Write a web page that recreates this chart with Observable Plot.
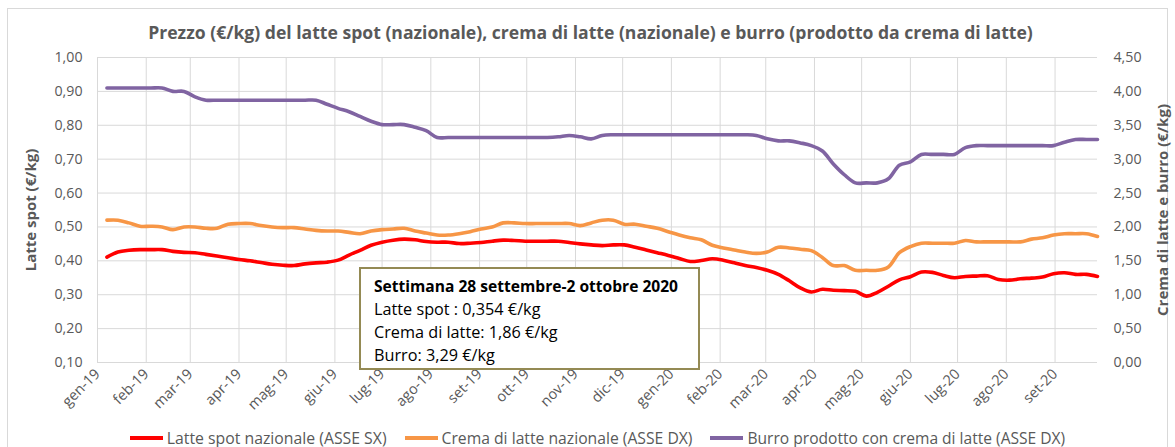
<!DOCTYPE html>
<html>
<head>
<meta charset="utf-8">
<script src="https://cdn.jsdelivr.net/npm/d3@7"></script>
<script src="https://cdn.jsdelivr.net/npm/@observablehq/plot@0.6"></script>
<style>
  html, body { margin: 0; padding: 0; background: #fff; width: 1175px; height: 447px; overflow: hidden; }
  body { font-family: "Open Sans", sans-serif; position: relative; }
  #frame { position: absolute; left: 7px; top: 8px; width: 1161px; height: 470px; border: 1px solid #d9d9d9; box-sizing: border-box; }
  #title { position: absolute; left: 0; top: 22px; width: 1181px; text-align: center; color: #595959; white-space: nowrap; line-height: 20px; }
  #title span { font-weight: bold; font-size: 16.5px; }
  #chart { position: absolute; left: 0; top: 45px; }
  #note { position: absolute; left: 359px; top: 267px; width: 341px; height: 103px; box-sizing: border-box; border: 2px solid #948a54; background: #fff; padding: 6px 0 0 13px; color: #000; font-size: 14px; line-height: 22px; white-space: nowrap; }
  #note div { display: block; }
  #note span { display: inline-block; }
  #note .head { font-weight: bold; font-size: 14.3px; }
  #legend { position: absolute; left: 10px; top: 428px; width: 1175px; display: flex; justify-content: center; gap: 18px; font-size: 15px; color: #595959; white-space: nowrap; line-height: 20px; }
  #legend .item { display: flex; align-items: center; }
  #legend .sw { display: inline-block; width: 33px; height: 4px; margin-right: 4px; }
</style>
</head>
<body>
<div id="frame"></div>
<div id="title"><span></span></div>
<div id="chart"></div>
<div id="note"></div>
<div id="legend"></div>
<script>
// ---------- DATA ----------
const titleText = "Prezzo (€/kg) del latte spot (nazionale), crema di latte (nazionale) e burro (prodotto da crema di latte)";
const leftAxisTitle = "Latte spot (€/kg)";
const rightAxisTitle = "Crema di latte e burro (€/kg)";

const weeks = [
  "2019-01-07","2019-01-14","2019-01-21","2019-01-28","2019-02-04","2019-02-11","2019-02-18","2019-02-25",
  "2019-03-04","2019-03-11","2019-03-18","2019-03-25","2019-04-01","2019-04-08","2019-04-15","2019-04-22","2019-04-29",
  "2019-05-06","2019-05-13","2019-05-20","2019-05-27","2019-06-03","2019-06-10","2019-06-17","2019-06-24",
  "2019-07-01","2019-07-08","2019-07-15","2019-07-22","2019-07-29","2019-08-05","2019-08-12","2019-08-19","2019-08-26",
  "2019-09-02","2019-09-09","2019-09-16","2019-09-23","2019-09-30","2019-10-07","2019-10-14","2019-10-21","2019-10-28",
  "2019-11-04","2019-11-11","2019-11-18","2019-11-25","2019-12-02","2019-12-09","2019-12-16","2019-12-23","2019-12-30",
  "2020-01-06","2020-01-13","2020-01-20","2020-01-27","2020-02-03","2020-02-10","2020-02-17","2020-02-24",
  "2020-03-02","2020-03-09","2020-03-16","2020-03-23","2020-03-30","2020-04-06","2020-04-13","2020-04-20","2020-04-27",
  "2020-05-04","2020-05-11","2020-05-18","2020-05-25","2020-06-01","2020-06-08","2020-06-15","2020-06-22","2020-06-29",
  "2020-07-06","2020-07-13","2020-07-20","2020-07-27","2020-08-03","2020-08-10","2020-08-17","2020-08-24","2020-08-31",
  "2020-09-07","2020-09-14","2020-09-21","2020-09-28"
];

// Latte spot nazionale (left axis, €/kg)
const latteSpot = [
  0.411,0.426,0.431,0.433,0.433,0.433,0.428,0.425,0.424,0.419,0.414,0.409,0.404,0.400,0.395,0.390,0.387,
  0.386,0.391,0.394,0.396,0.402,0.417,0.431,0.446,0.455,0.461,0.464,0.462,0.457,0.455,0.455,0.451,0.452,
  0.454,0.458,0.461,0.460,0.458,0.458,0.458,0.458,0.454,0.450,0.447,0.445,0.447,0.447,0.440,0.432,0.424,
  0.416,0.407,0.398,0.401,0.406,0.402,0.394,0.386,0.380,0.372,0.360,0.341,0.320,0.308,0.316,0.313,0.312,
  0.310,0.296,0.307,0.325,0.344,0.353,0.367,0.366,0.357,0.350,0.354,0.355,0.356,0.345,0.343,0.347,0.349,
  0.352,0.362,0.365,0.360,0.360,0.354
];

// Crema di latte nazionale (right axis, €/kg)
const cremaLatte = [
  2.10,2.10,2.06,2.01,2.01,2.00,1.96,2.00,2.00,1.98,1.98,2.04,2.05,2.05,2.02,2.00,1.99,
  1.99,1.97,1.95,1.94,1.94,1.92,1.90,1.94,1.96,1.97,1.98,1.94,1.91,1.88,1.88,1.90,1.93,
  1.97,2.00,2.06,2.06,2.05,2.05,2.05,2.05,2.05,2.02,2.06,2.10,2.10,2.04,2.04,2.01,1.98,
  1.93,1.88,1.84,1.81,1.73,1.69,1.66,1.63,1.61,1.63,1.70,1.69,1.67,1.65,1.55,1.43,1.43,
  1.36,1.36,1.36,1.41,1.62,1.71,1.76,1.76,1.76,1.76,1.80,1.78,1.78,1.78,1.78,1.78,1.82,
  1.84,1.88,1.90,1.90,1.90,1.86
];

// Burro prodotto con crema di latte (right axis, €/kg)
const burro = [
  4.05,4.05,4.05,4.05,4.05,4.05,4.00,4.00,3.92,3.87,3.87,3.87,3.87,3.87,3.87,3.87,3.87,
  3.87,3.87,3.87,3.81,3.75,3.70,3.63,3.56,3.51,3.51,3.51,3.47,3.42,3.32,3.32,3.32,3.32,
  3.32,3.32,3.32,3.32,3.32,3.32,3.32,3.33,3.35,3.33,3.30,3.35,3.36,3.36,3.36,3.36,3.36,
  3.36,3.36,3.36,3.36,3.36,3.36,3.36,3.36,3.35,3.30,3.27,3.27,3.24,3.20,3.12,2.93,2.77,
  2.65,2.65,2.65,2.71,2.91,2.96,3.07,3.07,3.07,3.07,3.17,3.20,3.20,3.20,3.20,3.20,3.20,
  3.20,3.20,3.25,3.29,3.29,3.29
];

const seriesNames = ["Latte spot nazionale (ASSE SX)", "Crema di latte nazionale (ASSE DX)", "Burro prodotto con crema di latte (ASSE DX)"];
const seriesColors = ["#ff0000", "#f79646", "#8064a2"];

const leftTicks = [0.1,0.2,0.3,0.4,0.5,0.6,0.7,0.8,0.9,1.0];
const leftTickLabels = ["0,10","0,20","0,30","0,40","0,50","0,60","0,70","0,80","0,90","1,00"];
const rightTickLabels = ["0,00","0,50","1,00","1,50","2,00","2,50","3,00","3,50","4,00","4,50"];

const monthTickDates = [
  "2019-01-01","2019-02-01","2019-03-01","2019-04-01","2019-05-01","2019-06-01","2019-07-01","2019-08-01",
  "2019-09-01","2019-10-01","2019-11-01","2019-12-01","2020-01-01","2020-02-01","2020-03-01","2020-04-01",
  "2020-05-01","2020-06-01","2020-07-01","2020-08-01","2020-09-01"
];
const monthTickLabels = [
  "gen-19","feb-19","mar-19","apr-19","mag-19","giu-19","lug-19","ago-19","set-19","ott-19","nov-19","dic-19",
  "gen-20","feb-20","mar-20","apr-20","mag-20","giu-20","lug-20","ago-20","set-20"
];

const noteLines = ["Settimana 28 settembre-2 ottobre 2020", "Latte spot : 0,354 €/kg", "Crema di latte: 1,86 €/kg", "Burro: 3,29 €/kg"];

// ---------- BUILD ----------
const parse = s => new Date(s + "T00:00:00Z");
const toLeft = v => 0.1 + v / 5; // right axis (0–4.5) mapped onto left axis (0.1–1.0)

const rows = [];
weeks.forEach((w, i) => {
  rows.push({date: parse(w), y: latteSpot[i], s: seriesNames[0]});
  rows.push({date: parse(w), y: toLeft(cremaLatte[i]), s: seriesNames[1]});
  rows.push({date: parse(w), y: toLeft(burro[i]), s: seriesNames[2]});
});

const monthTicks = monthTickDates.map(parse);
const monthLabelMap = new Map(monthTicks.map((d, i) => [+d, monthTickLabels[i]]));
const leftLabelMap = new Map(leftTicks.map((d, i) => [d.toFixed(2), leftTickLabels[i]]));
const rightLabelMap = new Map(leftTicks.map((d, i) => [d.toFixed(2), rightTickLabels[i]]));

const chart = Plot.plot({
  width: 1175,
  height: 372,
  marginLeft: 97,
  marginRight: 78,
  marginTop: 12,
  marginBottom: 55,
  style: {fontFamily: "Open Sans, sans-serif", fontSize: "14.2px", color: "#595959", background: "transparent", overflow: "visible"},
  x: {type: "utc", domain: [parse("2019-01-01"), parse(weeks[weeks.length - 1])]},
  y: {domain: [0.1, 1.0]},
  color: {domain: seriesNames, range: seriesColors},
  marks: [
    Plot.gridY(leftTicks, {stroke: "#d9d9d9", strokeOpacity: 1, strokeWidth: 1}),
    Plot.gridX(monthTicks, {stroke: "#d9d9d9", strokeOpacity: 1, strokeWidth: 1}),
    Plot.axisY(leftTicks, {anchor: "left", tickSize: 0, tickPadding: 15, label: null, tickFormat: d => leftLabelMap.get(d.toFixed(2))}),
    Plot.axisY(leftTicks, {anchor: "right", tickSize: 0, tickPadding: 16, label: null, textAnchor: "start", tickFormat: d => rightLabelMap.get(d.toFixed(2))}),
    Plot.axisX(monthTicks, {anchor: "bottom", tickSize: 0, tickPadding: 9, tickRotate: -45, label: null, fontSize: 14.5, tickFormat: d => monthLabelMap.get(+d)}),
    Plot.text([leftAxisTitle], {frameAnchor: "left", textAnchor: "middle", rotate: -90, dx: -66, fontWeight: "bold", fontSize: 15, fill: "#595959"}),
    Plot.text([rightAxisTitle], {frameAnchor: "right", textAnchor: "middle", rotate: -90, dx: 66, fontWeight: "bold", fontSize: 15, fill: "#595959"}),
    Plot.lineY(rows, {x: "date", y: "y", z: "s", stroke: "s", strokeWidth: 3.6, curve: "catmull-rom", strokeLinejoin: "round", strokeLinecap: "round"})
  ]
});
document.getElementById("chart").appendChild(chart);

// fit a text element to a target width by scaling its font size
function fitWidth(el, target) {
  const w = el.getBoundingClientRect().width;
  const fs = parseFloat(getComputedStyle(el).fontSize);
  if (w > 0) el.style.fontSize = (fs * target / w).toFixed(2) + "px";
}

const titleSpan = document.querySelector("#title span");
titleSpan.textContent = titleText;
fitWidth(titleSpan, 885);

const note = document.getElementById("note");
const noteTargets = [304, 167, 183, 121];
const noteSpans = noteLines.map((t, i) => {
  const div = document.createElement("div");
  const sp = document.createElement("span");
  sp.textContent = t;
  if (i === 0) div.className = "head";
  div.appendChild(sp);
  note.appendChild(div);
  return sp;
});
fitWidth(noteSpans[0], noteTargets[0]);
// body lines share one size: average of the fitted sizes
{
  const sizes = [1, 2, 3].map(i => {
    const w = noteSpans[i].getBoundingClientRect().width;
    return 14 * noteTargets[i] / w;
  });
  const s = (sizes[0] + sizes[1] + sizes[2]) / 3;
  [1, 2, 3].forEach(i => noteSpans[i].style.fontSize = s.toFixed(2) + "px");
}

const legendTargets = [220, 251, 318];
const legend = document.getElementById("legend");
seriesNames.forEach((n, i) => {
  const item = document.createElement("div");
  item.className = "item";
  const sw = document.createElement("span");
  sw.className = "sw";
  sw.style.background = seriesColors[i];
  const tx = document.createElement("span");
  tx.textContent = n;
  item.appendChild(sw);
  item.appendChild(tx);
  legend.appendChild(item);
  fitWidth(tx, legendTargets[i]);
});
</script>
</body>
</html>
